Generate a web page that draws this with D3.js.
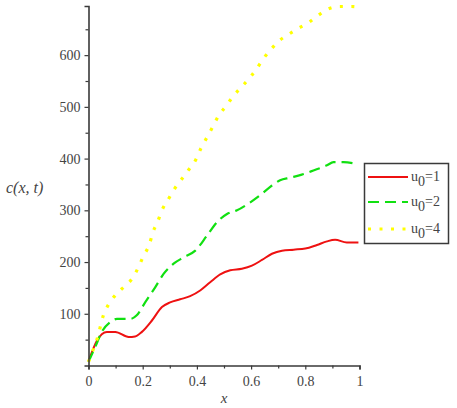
<!DOCTYPE html>
<html>
<head>
<meta charset="utf-8">
<script src="https://cdn.jsdelivr.net/npm/d3@7"></script>
<style>
  body { margin: 0; background: #fff; }
  text { font-family: "Liberation Serif", "Times New Roman", serif; }
</style>
</head>
<body>
<script>
// values
const xRed = [0, 0.031, 0.068, 0.099, 0.148, 0.172, 0.197, 0.234, 0.271, 0.301, 0.338, 0.375, 0.412, 0.449, 0.486, 0.523, 0.566, 0.603, 0.640, 0.677, 0.714, 0.757, 0.800, 0.843, 0.880, 0.910, 0.953, 0.996];
const yRed = [8, 48, 65, 65, 55, 56, 65, 87, 113, 122, 128, 134, 145, 161, 176, 184, 187, 193, 204, 216, 222, 224, 226, 233, 240, 243, 238, 238];

const xGreen = [0, 0.025, 0.049, 0.080, 0.105, 0.154, 0.178, 0.209, 0.246, 0.277, 0.314, 0.351, 0.394, 0.437, 0.474, 0.511, 0.548, 0.590, 0.640, 0.677, 0.707, 0.744, 0.787, 0.830, 0.880, 0.904, 0.941, 0.985];
const yGreen = [7, 36, 65, 84, 90, 90, 97, 122, 151, 177, 197, 209, 222, 251, 277, 293, 300, 313, 332, 348, 358, 363, 369, 377, 387, 393, 393, 390];

const xYellow = [0, 0.016, 0.031, 0.055, 0.074, 0.101, 0.133, 0.164, 0.185, 0.203, 0.224, 0.238, 0.256, 0.271, 0.293, 0.318, 0.345, 0.369, 0.396, 0.415, 0.437, 0.459, 0.480, 0.507, 0.533, 0.562, 0.593, 0.621, 0.645, 0.673, 0.704, 0.741, 0.775, 0.812, 0.848, 0.883, 0.924, 0.970, 1.0];
const yYellow = [7, 29, 50, 97, 118, 137, 153, 170, 191, 212, 233, 258, 279, 300, 320, 342, 361, 378, 398, 420, 441, 462, 483, 501, 520, 537, 555, 574, 593, 611, 628, 641, 652, 663, 677, 689, 694, 694, 693];

const xTicks = [0, 0.2, 0.4, 0.6, 0.8, 1];
const xMinor = [0.1, 0.3, 0.5, 0.7, 0.9];
const yTicks = [100, 200, 300, 400, 500, 600];
const yMinor = [50, 150, 250, 350, 450, 550, 650];

const legendLabels = ["1", "2", "4"];

function main() {
    const W = 457, H = 408;
    const svg = d3.select("body").append("svg")
        .attr("width", W).attr("height", H);

    const x = d3.scaleLinear().domain([0, 1]).range([88.5, 359.5]);
    const y = d3.scaleLinear().domain([0, 695]).range([365.5, 6]);

    const axisColor = "#3a3a3a";
    const labelColor = "#444";

    // curves
    const series = [
        {xs: xRed, ys: yRed, color: "#ee1111", dash: null, width: 2},
        {xs: xGreen, ys: yGreen, color: "#11e011", dash: "11,6", width: 2.2},
        {xs: xYellow, ys: yYellow, color: "#ffff00", dash: "3,8.5", width: 3.2}
    ];
    const line = d3.line()
        .x(d => x(d[0])).y(d => y(d[1]))
        .curve(d3.curveMonotoneX);

    series.forEach(s => {
        const pts = s.xs.map((v, i) => [v, s.ys[i]]);
        svg.append("path")
            .attr("d", line(pts))
            .attr("fill", "none")
            .attr("stroke", s.color)
            .attr("stroke-width", s.width)
            .attr("stroke-dasharray", s.dash);
    });

    // axes
    const gx = svg.append("g").attr("transform", "translate(0," + y(0) + ")");
    gx.call(d3.axisBottom(x).tickValues(xTicks).tickSize(4).tickPadding(7)
        .tickFormat(d => d === 0 ? "0" : d === 1 ? "1" : d3.format(".1f")(d)));
    gx.append("g").call(d3.axisBottom(x).tickValues(xMinor).tickSize(3).tickFormat(""))
        .select(".domain").remove();

    const gy = svg.append("g").attr("transform", "translate(" + x(0) + ",0)");
    gy.call(d3.axisLeft(y).tickValues(yTicks).tickSize(4).tickPadding(4));
    gy.append("g").call(d3.axisLeft(y).tickValues(yMinor).tickSize(3).tickFormat(""))
        .select(".domain").remove();

    svg.selectAll(".domain").attr("stroke", axisColor).attr("stroke-width", 1.6);
    svg.selectAll(".tick line").attr("stroke", axisColor).attr("stroke-width", 1.2);
    svg.selectAll(".tick text")
        .attr("fill", labelColor)
        .style("font-family", "'Liberation Serif', serif")
        .style("font-size", "14px");

    // axis titles
    svg.append("text")
        .attr("x", x(0.5)).attr("y", 403)
        .attr("text-anchor", "middle")
        .attr("fill", labelColor)
        .style("font-style", "italic")
        .style("font-size", "15px")
        .text("x");

    svg.append("text")
        .attr("x", 6).attr("y", 193)
        .attr("fill", labelColor)
        .style("font-style", "italic")
        .style("font-size", "16px")
        .text("c(x, t)");

    // legend
    const lg = svg.append("g");
    lg.append("rect")
        .attr("x", 364.5).attr("y", 163.5)
        .attr("width", 84).attr("height", 80)
        .attr("fill", "#fff")
        .attr("stroke", axisColor).attr("stroke-width", 1.5);

    const rowY = [177, 202, 229];
    series.forEach((s, i) => {
        lg.append("line")
            .attr("x1", 368).attr("x2", 408)
            .attr("y1", rowY[i]).attr("y2", rowY[i])
            .attr("stroke", s.color)
            .attr("stroke-width", s.width)
            .attr("stroke-dasharray", s.dash);
        const t = lg.append("text")
            .attr("x", 411).attr("y", rowY[i] + 4)
            .attr("fill", labelColor)
            .style("font-size", "14px");
        t.append("tspan").text("u");
        t.append("tspan").attr("dy", 5).style("font-size", "14px").text("0");
        t.append("tspan").attr("dy", -5).text("=" + legendLabels[i]);
    });
}

main();
</script>
</body>
</html>
